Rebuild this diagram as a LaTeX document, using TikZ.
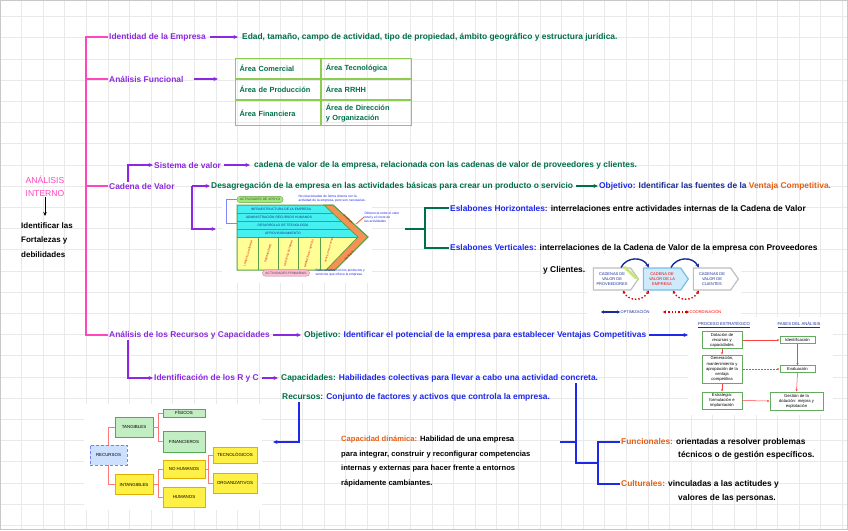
\documentclass[tikz,border=0pt]{standalone}
\usepackage{fontspec}
\setmainfont{Liberation Sans}
\usetikzlibrary{arrows.meta,positioning,calc,shapes.symbols}
\definecolor{gridgray}{RGB}{233,233,233}
\definecolor{framegray}{RGB}{200,200,200}
\definecolor{mappink}{RGB}{255,70,190}
\definecolor{mappurple}{RGB}{140,40,225}
\definecolor{mapgreen}{RGB}{0,112,72}
\definecolor{mapblue}{RGB}{30,40,235}
\definecolor{mapnavy}{RGB}{25,45,150}
\definecolor{maporange}{RGB}{230,95,20}
\definecolor{tablegreen}{RGB}{140,205,80}
\definecolor{vccyan}{RGB}{70,240,240}
\definecolor{vcyellow}{RGB}{255,255,150}
\definecolor{vcorange}{RGB}{245,145,85}
\definecolor{vcgreen}{RGB}{90,160,70}
\definecolor{pillgreen}{RGB}{160,235,120}
\definecolor{pillpink}{RGB}{255,190,215}
\definecolor{chaingray}{RGB}{190,190,190}
\definecolor{chainblue}{RGB}{120,190,230}
\definecolor{chainfill}{RGB}{205,235,250}
\definecolor{stripegreen}{RGB}{200,230,120}
\definecolor{procgreen}{RGB}{100,170,95}
\definecolor{resgreen}{RGB}{195,238,195}
\definecolor{resgreenline}{RGB}{80,170,80}
\definecolor{resyellow}{RGB}{255,240,70}
\definecolor{resyellowline}{RGB}{225,175,0}
\definecolor{resblue}{RGB}{205,225,255}
\definecolor{treered}{RGB}{255,120,120}
\newcommand\handfont{\fontsize{8.4}{10}\selectfont\bfseries}
\newcommand\goalfont{\fontsize{8}{14.5}\selectfont\bfseries}
\newcommand\titlefont{\fontsize{8.6}{13}\selectfont}
\newcommand\cellfont{\fontsize{7.4}{10}\selectfont\bfseries}
\newcommand\dynfont{\fontsize{7.6}{14.5}\selectfont\bfseries}
\newcommand\tinyfont{\fontsize{4}{5}\selectfont}
\newcommand\microfont{\fontsize{3.3}{3.9}\selectfont}
\newcommand\nanofont{\fontsize{2.6}{3}\selectfont}
\newcommand\procfont{\fontsize{4.2}{5.1}\selectfont}
\newcommand\resfont{\fontsize{4.4}{5}\selectfont}
\tikzset{
  >={Stealth[length=4.5pt,width=4pt]},
  gridline/.style={draw=gridgray, line width=0.9pt},
  hand/.style={anchor=west, inner sep=1pt, font=\handfont},
  topic/.style={hand, text=mappurple},
  detail/.style={hand, text=mapgreen},
  remark/.style={hand, text=black},
  spine/.style={draw=mappink, line width=1.3pt},
  purpleflow/.style={-{Stealth[length=4.5pt,width=4pt]}, draw=mappurple, line width=1.3pt},
  greenflow/.style={-{Stealth[length=4.5pt,width=4pt]}, draw=mapgreen, line width=1.3pt},
  blueflow/.style={-{Stealth[length=4.5pt,width=4pt]}, draw=mapblue, line width=1.3pt},
  blackflow/.style={-{Stealth[length=4pt,width=3.5pt]}, draw=black, line width=1pt},
  greenline/.style={draw=mapgreen, line width=1.3pt},
  blueline/.style={draw=mapblue, line width=1.3pt},
  tablecell/.style={draw=tablegreen, line width=1.2pt, anchor=north west, align=left, inner xsep=4pt, inner ysep=1pt, font=\cellfont, text=mapgreen, text width=#1},
  imgback/.style={fill=white, draw=none, inner sep=0pt, anchor=north west},
  vctext/.style={font=\microfont, inner sep=0.3pt, align=center},
  coltext/.style={font=\nanofont, inner sep=0.2pt, text=red!80!black, rotate=74},
  vcgrid/.style={draw=vcgreen, line width=0.6pt},
  pill/.style={rounded corners=3pt, draw=#1!70!black, fill=#1, font=\microfont, inner xsep=3pt, inner ysep=2pt, text=black!75},
  vcnote/.style={font=\microfont, inner sep=0.3pt, align=left, text=mapblue},
  chainbox/.style={signal, signal to=east, signal pointer angle=110, draw=#1, line width=1.2pt, font=\tinyfont, align=center, minimum width=45pt, minimum height=22pt, inner sep=0.5pt},
  optflow/.style={-{Stealth[length=3.5pt,width=3.8pt]}, draw=mapnavy, line width=1.4pt},
  coordflow/.style={{Stealth[length=3pt,width=3.4pt]}-{Stealth[length=3pt,width=3.4pt]}, draw=red!85!black, line width=1.4pt, dotted},
  optkey/.style={{Stealth[length=3pt,width=3.4pt]}-{Stealth[length=3pt,width=3.4pt]}, draw=mapnavy, line width=1.4pt},
  coordkey/.style={coordflow},
  legend/.style={font=\tinyfont, inner sep=0.5pt, anchor=west},
  procbox/.style={draw=procgreen, line width=1pt, fill=white, font=\procfont, align=center, inner sep=0.4pt},
  prochead/.style={font=\procfont, text=mapnavy, inner sep=0.5pt},
  procflow/.style={-{Stealth[length=2.4pt,width=2.2pt]}, draw=red!75, line width=0.5pt},
  greenres/.style={draw=resgreenline, fill=resgreen, line width=0.7pt, font=\resfont, inner sep=0.5pt},
  yellowres/.style={draw=resyellowline, fill=resyellow, line width=0.7pt, font=\resfont, inner sep=0.5pt},
  blueres/.style={draw=mapblue!60, fill=resblue, densely dashed, line width=0.7pt, font=\resfont, inner sep=0.5pt},
  treeline/.style={draw=treered, line width=0.8pt}
}
\begin{document}
\begin{tikzpicture}[x=1pt,y=-1pt]
  \useasboundingbox (0,0) rectangle (848,530);
  \fill[white] (0,0) rectangle (848,530);
  \foreach \gx in {21.6,43.2,...,847} \draw[gridline] (\gx,0) -- (\gx,530);
  \foreach \gy in {16.7,37.9,...,529} \draw[gridline] (0,\gy) -- (848,\gy);
  \draw[framegray, line width=1pt] (0.5,0.5) rectangle (847.5,529.5);

  % pasted pictures
  \node[imgback, minimum width=150pt, minimum height=93pt] (vcImg) at (222,190) {};
  \node[imgback, minimum width=154pt, minimum height=64pt] (chainImg) at (587,254) {};
  \node[imgback, minimum width=145pt, minimum height=98pt] (procImg) at (688,317) {};
  \node[imgback, minimum width=178pt, minimum height=106pt] (resImg) at (84,404) {};

  % title
  \node[hand, anchor=center, align=center, text=mappink, font=\titlefont] (title) at (45,186) {ANÁLISIS\\INTERNO};
  \node[remark, anchor=north west, align=left, font=\goalfont] (goal) at (20,221) {Identificar las\\Fortalezas y\\debilidades};
  \draw[blackflow, shorten >=5pt] (title.south) -- (title.south |- goal.north);

  % main branches
  \node[topic] (idEmp) at (108,37) {Identidad de la Empresa};
  \node[topic] (funcAn) at (108,79) {Análisis Funcional};
  \node[topic] (cadVal) at (108,186) {Cadena de Valor};
  \node[topic] (recCap) at (108,335) {Análisis de los Recursos y Capacidades};

  \coordinate (spineX) at (86,0);
  \draw[spine] (idEmp.west) -- (idEmp.west -| spineX) -- (recCap.west -| spineX) -- (recCap.west);
  \draw[spine] (funcAn.west -| spineX) -- (funcAn.west);
  \draw[spine] (cadVal.west -| spineX) -- (cadVal.west);

  % identidad
  \node[detail] (idDet) at (241,37) {Edad, tamaño, campo de actividad, tipo de propiedad, ámbito geográfico y estructura jurídica.};
  \draw[purpleflow, shorten <=3pt, shorten >=3pt] (idEmp.east) -- (idDet.west);

  % analisis funcional
  \node[tablecell=77pt, minimum height=19.5pt] (cellA) at (235,58) {Área Comercial};
  \node[tablecell=82pt, minimum height=19.5pt] (cellB) at (cellA.north east) {Área Tecnológica};
  \node[tablecell=77pt, minimum height=20pt] (cellC) at (cellA.south west) {Área de Producción};
  \node[tablecell=82pt, minimum height=20pt] (cellD) at (cellC.north east) {Área RRHH};
  \node[tablecell=77pt, minimum height=25pt] (cellE) at (cellC.south west) {Área Financiera};
  \node[tablecell=82pt, minimum height=25pt] (cellF) at (cellE.north east) {Área de Dirección\\y Organización};
  \draw[purpleflow, shorten <=9pt, shorten >=17pt] (funcAn.east) -- (funcAn.east -| cellA.west);

  % cadena de valor
  \node[topic] (sisVal) at (153,165) {Sistema de valor};
  \node[detail] (sisDet) at (253,165) {cadena de valor de la empresa, relacionada con las cadenas de valor de proveedores y clientes.};
  \draw[purpleflow] ([xshift=20pt]cadVal.north west) |- (sisVal.west);
  \draw[purpleflow, shorten <=2pt, shorten >=3pt] (sisVal.east) -- (sisDet.west);

  \node[detail] (desag) at (210,186) {Desagregación de la empresa en las actividades básicas para crear un producto o servicio};
  \node[hand] (objVC) at (598,186) {\textcolor{mapblue}{Objetivo:} \textcolor{mapnavy}{Identificar las fuentes de la} \textcolor{maporange}{Ventaja Competitiva.}};
  \draw[greenflow, shorten <=2pt] (desag.east) -- (objVC.west);

  \coordinate (cvFork) at (192,0);
  \coordinate (vcIn) at (216,229);
  \draw[purpleflow] (cadVal.east -| cvFork) -- (desag.west);
  \draw[purpleflow] (cadVal.east -| cvFork) |- (vcIn);

  % value chain picture
  \fill[vccyan] (237,205) -- (324,205) -- (358,237) -- (237,237) -- cycle;
  \fill[vcyellow] (237,237) -- (358,237) -- (326,270) -- (237,270) -- cycle;
  \filldraw[fill=vcorange, draw=vcgreen, line width=0.8pt] (324,205) -- (333,205) -- (368,237) -- (335,270) -- (326,270) -- (358,237) -- cycle;
  \begin{scope}
    \clip (237,205) -- (324,205) -- (358,237) -- (326,270) -- (237,270) -- cycle;
    \foreach \ry in {213.5,221.5,229.5,237} \draw[vcgrid] (237,\ry) -- (360,\ry);
    \foreach \cx in {258,278,298,320} \draw[vcgrid] (\cx,237) -- (\cx,270);
  \end{scope}
  \draw[vcgreen, line width=1pt] (237,205) -- (333,205) -- (368,237) -- (335,270) -- (237,270) -- cycle;
  \node[vctext, text=mapnavy] (rowA) at (281,209.3) {INFRAESTRUCTURA DE LA EMPRESA};
  \node[vctext, text=mapnavy] (rowB) at (279,217.5) {ADMINISTRACIÓN RECURSOS HUMANOS};
  \node[vctext, text=mapnavy] (rowC) at (283,225.5) {DESARROLLO DE TECNOLOGÍA};
  \node[vctext, text=mapnavy] (rowD) at (283,233.3) {APROVISIONAMIENTO};
  \node[coltext] (colA) at (248,253.5) {LOGÍSTICA INTERNA};
  \node[coltext] (colB) at (268,253.5) {OPERACIONES};
  \node[coltext] (colC) at (288,253.5) {LOGÍSTICA EXTERNA};
  \node[coltext] (colD) at (309,253.5) {MARKETING Y VENTAS};
  \node[coltext, font=\fontsize{2.3}{2.7}\selectfont] (colE) at (329,250) {SERVICIO POST-VENTA};
  \node[coltext, rotate=-116] (margA) at (348,219) {MARGEN};
  \node[coltext, rotate=-29] (margB) at (349,256) {MARGEN};
  \node[pill=pillgreen] (apoyo) at (260,199.5) {ACTIVIDADES DE APOYO};
  \node[pill=pillpink] (primar) at (286,273) {ACTIVIDADES PRIMARIAS};
  \node[vcnote, anchor=west] (apoyoNote) at (298,198.5) {No relacionadas de forma directa con la\\actividad de la empresa, pero son necesarias.};
  \node[vcnote, anchor=west] (primNote) at (315,273) {Relacionadas con los productos y\\servicios que ofrece la empresa};
  \node[vcnote, anchor=west] (margNote) at (364,217) {Diferencia entre el valor\\total y el coste de\\las actividades};
  \coordinate (margPt) at (356,224);
  \draw[draw=maporange, line width=0.8pt] (margPt) -- (margNote.west);
  \coordinate (apoyoLeft) at (226,0);
  \coordinate (supportIn) at (237,223);
  \draw[draw=mapblue!55, line width=0.7pt] (apoyo.west) -- (apoyo.west -| apoyoLeft) |- (supportIn);

  % eslabones
  \node[hand] (eslH) at (449,208) {\textcolor{mapblue}{Eslabones Horizontales:} interrelaciones entre actividades internas de la Cadena de Valor};
  \node[hand] (eslV) at (449,248) {\textcolor{mapblue}{Eslabones Verticales:} interrelaciones de la Cadena de Valor de la empresa con Proveedores};
  \node[remark] (eslV2) at (542,270) {y Clientes.};
  \coordinate (eslStub) at (405,229);
  \coordinate (eslFork) at (425,229);
  \draw[greenline] (eslStub) -- (eslFork);
  \draw[greenline] (eslH.west) -| (eslFork) |- (eslV.west);

  % sistema de valor picture
  \node[chainbox=chaingray, fill=white, text=mapnavy] (provCh) at (612,279) {CADENAS DE\\VALOR DE\\PROVEEDORES};
  \node[chainbox=chainblue, fill=chainfill, text=red] (empCh) at (662,279) {CADENA DE\\VALOR DE LA\\EMPRESA};
  \node[chainbox=chaingray, fill=white, text=mapnavy] (cliCh) at (712,279) {CADENAS DE\\VALOR DE\\CLIENTES};
  \fill[stripegreen] ([xshift=-9pt,yshift=1pt]provCh.north east) -- ([xshift=-5pt,yshift=1pt]provCh.north east) -- ([xshift=0pt]provCh.east) -- ([xshift=-4pt]provCh.east) -- cycle;
  \draw[optflow] ([xshift=-10pt]provCh.north east) .. controls +(6,-11) and +(-6,-11) .. ([xshift=6pt]empCh.north west);
  \draw[optflow] ([xshift=-10pt]empCh.north east) .. controls +(6,-11) and +(-6,-11) .. ([xshift=6pt]cliCh.north west);
  \draw[coordflow] ([xshift=-8pt]provCh.south east) .. controls +(6,11) and +(-6,11) .. ([xshift=6pt]empCh.south west);
  \draw[coordflow] ([xshift=-8pt]empCh.south east) .. controls +(6,11) and +(-6,11) .. ([xshift=6pt]cliCh.south west);
  \node[legend, text=mapnavy] (optLeg) at (620,312) {OPTIMIZACIÓN};
  \node[legend, text=red] (coordLeg) at (689,312) {COORDINACIÓN};
  \coordinate (optKey) at (601,312);
  \coordinate (coordKey) at (663,312);
  \draw[optkey] (optKey) -- (optLeg.west);
  \draw[coordkey] (coordKey) -- (coordLeg.west);

  % recursos y capacidades
  \node[hand] (objRC) at (303,335) {\textcolor{mapgreen}{Objetivo:} \textcolor{mapblue}{Identificar el potencial de la empresa para establecer Ventajas Competitivas}};
  \draw[purpleflow, shorten <=2pt, shorten >=2pt] (recCap.east) -- (objRC.west);
  \draw[blueflow, shorten <=2pt] (objRC.east) -- (objRC.east -| procImg.west);

  \node[topic] (idRC) at (153,378) {Identificación de los R y C};
  \draw[purpleflow] ([xshift=20pt]recCap.south west) |- (idRC.west);
  \node[hand] (capac) at (280,378) {\textcolor{mapgreen}{Capacidades:} \textcolor{mapblue}{Habilidades colectivas para llevar a cabo una actividad concreta.}};
  \node[hand] (recur) at (281,397) {\textcolor{mapgreen}{Recursos:} \textcolor{mapblue}{Conjunto de factores y activos que controla la empresa.}};
  \draw[purpleflow, shorten <=2pt, shorten >=2pt] (idRC.east) -- (capac.west);

  \coordinate (resTip) at (273,442);
  \draw[blueflow] ([xshift=18pt]recur.south west) |- (resTip);

  \node[remark, anchor=north west, align=left, font=\dynfont] (dynCap) at (340,435) {\textcolor{maporange}{Capacidad dinámica:} Habilidad de una empresa\\para integrar, construir y reconfigurar competencias\\internas y externas para hacer frente a entornos\\rápidamente cambiantes.};
  \node[remark] (funcT) at (620,442) {\textcolor{maporange}{Funcionales:} orientadas a resolver problemas};
  \node[remark] (funcT2) at (677,455) {técnicos o de gestión específicos.};
  \node[remark] (cultT) at (620,484) {\textcolor{maporange}{Culturales:} vinculadas a las actitudes y};
  \node[remark] (cultT2) at (677,498) {valores de las personas.};

  \coordinate (capTop) at (576,0);
  \coordinate (capBot) at (576,463);
  \coordinate (dynStub) at (560,442);
  \coordinate (typeFork) at (598,463);
  \draw[blueline] (capac.south -| capTop) -- (capBot) -- (typeFork);
  \draw[blueline] (dynStub) -- (dynStub -| capTop);
  \draw[blueline] (funcT.west) -| (typeFork) |- (cultT.west);

  % proceso estrategico picture
  \node[prochead] (procHead) at (724,325) {\underline{PROCESO ESTRATÉGICO}};
  \node[prochead] (fasesHead) at (799,325) {\underline{FASES DEL ANÁLISIS}};
  \node[procbox, minimum width=40pt, minimum height=17pt] (dotac) at (722,340) {Dotación de\\recursos y\\capacidades};
  \node[procbox, minimum width=40pt, minimum height=28pt] (gener) at (722,369) {Generación,\\mantenimiento y\\apropiación de la\\ventaja\\competitiva};
  \node[procbox, minimum width=40pt, minimum height=17pt] (estrat) at (722,400.5) {Estrategia:\\formulación e\\implantación};
  \node[procbox, minimum width=35pt, minimum height=6.5pt] (ident) at (797.5,340) {Identificación};
  \node[procbox, minimum width=35pt, minimum height=6.5pt] (evalu) at (797.5,369) {Evaluación};
  \node[procbox, minimum width=53pt, minimum height=18pt] (gestion) at (796.5,401) {Gestión de la\\dotación: mejora y\\explotación};
  \draw[procflow] (dotac.east) -- (ident.west);
  \draw[procflow, densely dotted] (gener.east) -- (evalu.west);
  \draw[procflow] (estrat.east) -- (gestion.west);
  \draw[procflow] (ident.south) -- (evalu.north);
  \draw[procflow] (evalu.south) -- (gestion.north);
  \draw[procflow] (dotac.south) -- (gener.north);
  \draw[procflow] (gener.south) -- (estrat.north);

  % recursos picture
  \node[blueres, minimum width=37pt, minimum height=20pt] (recursos) at (108.5,455) {RECURSOS};
  \node[greenres, minimum width=38pt, minimum height=20pt] (tang) at (134,427) {TANGIBLES};
  \node[yellowres, minimum width=38pt, minimum height=20pt] (intang) at (134,484.5) {INTANGIBLES};
  \node[greenres, minimum width=42pt, minimum height=8pt] (fisic) at (184,413) {FÍSICOS};
  \node[greenres, minimum width=42pt, minimum height=21pt] (financ) at (184,441.5) {FINANCIEROS};
  \node[yellowres, minimum width=42pt, minimum height=18pt] (nohum) at (184,469) {NO HUMANOS};
  \node[yellowres, minimum width=42pt, minimum height=20pt] (humanos) at (184,497) {HUMANOS};
  \node[yellowres, minimum width=44pt, minimum height=16pt] (tecno) at (235,455) {TECNOLÓGICOS};
  \node[yellowres, minimum width=44pt, minimum height=20pt] (organ) at (235,483) {ORGANIZATIVOS};
  \draw[treeline] (recursos.north) |- (tang.west);
  \draw[treeline] (recursos.south) |- (intang.west);
  \draw[treeline] (tang.east) -- ++(5,0) coordinate (tangFork);
  \draw[treeline] (fisic.west) -| (tangFork) |- (financ.west);
  \draw[treeline] (intang.east) -- ++(5,0) coordinate (intangFork);
  \draw[treeline] (nohum.west) -| (intangFork) |- (humanos.west);
  \draw[treeline] (nohum.east) -- ++(3,0) coordinate (nohumFork);
  \draw[treeline] (tecno.west) -| (nohumFork) |- (organ.west);
\end{tikzpicture}
\end{document}
